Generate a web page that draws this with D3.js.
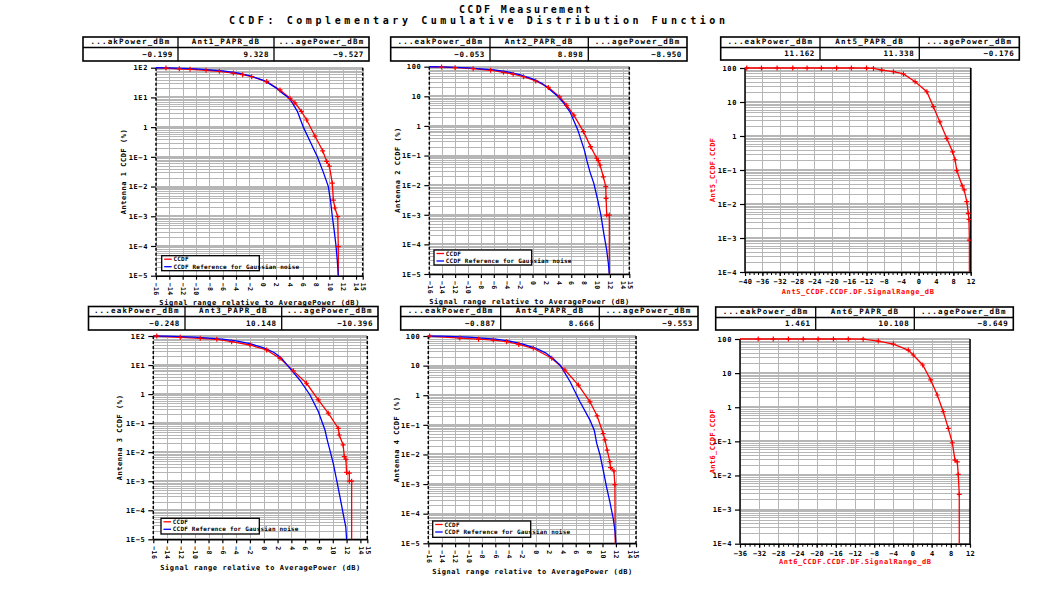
<!DOCTYPE html>
<html><head><meta charset="utf-8">
<script src="https://cdn.jsdelivr.net/npm/d3@7"></script>
<style>
body{margin:0;background:#fff;}
svg{display:block;}
text{font-family:"DejaVu Sans Mono",monospace;font-weight:bold;}
</style></head><body>
<svg id="c" width="1054" height="607"></svg>
<script>
// ---------- DATA ----------
const titleLines = ["CCDF Measurement","CCDF: Complementary Cumulative Distribution Function"];
const relXTicks = [-16,-14,-12,-10,-8,-6,-4,-2,0,2,4,6,8,10,12,14,15];
const relYTicks = [1e2,1e1,1,1e-1,1e-2,1e-3,1e-4,1e-5];
const relYLabelsA = ["1E2","1E1","1","1E-1","1E-2","1E-3","1E-4","1E-5"];
const relYLabelsB = ["100","10","1","1E-1","1E-2","1E-3","1E-4","1E-5"];
const ant5XTicks = [-40,-36,-32,-28,-24,-20,-16,-12,-8,-4,0,4,8,12];
const ant6XTicks = [-36,-32,-28,-24,-20,-16,-12,-8,-4,0,4,8,12];
const absYTicks = [100,10,1,1e-1,1e-2,1e-3,1e-4];
const absYLabels = ["100","10","1","1E-1","1E-2","1E-3","1E-4"];
const legendLabels = ["CCDF","CCDF Reference for Gaussian noise"];
const relXTitle = "Signal range relative to AveragePower (dB)";

const ant1Heads = ["...akPower_dBm","Ant1_PAPR_dB","...agePower_dBm"];
const ant2Heads = ["...eakPower_dBm","Ant2_PAPR_dB","...agePower_dBm"];
const ant5Heads = ["...eakPower_dBm","Ant5_PAPR_dB","...agePower_dBm"];
const ant3Heads = ["...eakPower_dBm","Ant3_PAPR_dB","...agePower_dBm"];
const ant4Heads = ["...eakPower_dBm","Ant4_PAPR_dB","...agePower_dBm"];
const ant6Heads = ["...eakPower_dBm","Ant6_PAPR_dB","...agePower_dBm"];
const ant1Vals = ["-0.199","9.328","-9.527"];
const ant2Vals = ["-0.053","8.898","-8.950"];
const ant5Vals = ["11.162","11.338","-0.176"];
const ant3Vals = ["-0.248","10.148","-10.396"];
const ant4Vals = ["-0.887","8.666","-9.553"];
const ant6Vals = ["1.461","10.108","-8.649"];

// CCDF curves: [signal range dB, CCDF %]
const ant1Meas = [[-16,99.8],[-14.5,97],[-12.5,92],[-10.9,88],[-8.5,82],[-6.5,76],[-4.4,66],[-3,58],[-1.65,50],[0.6,34],[2.6,17.8],[4.1,9.3],[4.84,6.6],[5.8,3.4],[6.6,1.74],[7.84,0.5],[9.0,0.16],[9.6,0.07],[10.0,0.049],[10.44,0.013],[10.6,0.0035],[10.84,0.0019],[11.25,0.00097],[11.34,0.000095],[11.34,0.00001]];
const ant1Ref = [[-16,99.6],[-14,98.5],[-12,95.5],[-10,91],[-8,85],[-6,78],[-4,68.5],[-2,54.5],[0,38],[1,29],[2,21],[3,13.5],[3.84,10],[4.5,6.3],[5.2,3.4],[6.1,1.0],[7.2,0.3],[8.2,0.1],[9.1,0.03],[9.85,0.01],[10.2,0.003],[10.44,0.001],[10.75,0.0003],[11.0,0.0001],[11.2,0.00003],[11.34,0.00001]];
const ant2Meas = [[-16,99.8],[-14.1,97],[-12,93],[-9.2,86],[-6.5,76],[-4.5,65],[-3,56],[-1.4,46],[0.5,33],[2.45,20],[4.2,9.5],[5.3,5.0],[6.4,2.3],[7.9,0.64],[9.0,0.2],[9.95,0.081],[10.2,0.067],[10.46,0.048],[10.98,0.019],[11.35,0.0089],[11.4,0.0036],[11.5,0.00098],[11.9,0.00098],[11.9,0.00001]];
const ant2Ref = [[-16,99.6],[-14,98.5],[-12,95.5],[-10,91],[-8,85],[-6,78],[-4,68.5],[-2,54.5],[0,39],[1.5,27],[2.8,16],[3.9,10],[4.8,6],[5.8,3.0],[7.0,0.75],[8.05,0.15],[8.4,0.07],[8.9,0.028],[9.5,0.0115],[10.1,0.0032],[10.6,0.00098],[11.05,0.00023],[11.5,0.000064],[11.75,0.000023],[11.9,0.00001]];
const ant5Meas = [[-40,100],[-39.6,100],[-36.2,100],[-32.6,100],[-29.0,100],[-25.7,100],[-22.4,100],[-18.9,100],[-15.5,100],[-12.0,99.5],[-10.4,97],[-8.5,87],[-5.8,78],[-3.5,66.7],[-0.8,39.5],[1.9,20],[3.4,7.3],[4.9,2.6],[6.5,0.85],[7.85,0.34],[8.4,0.2],[8.8,0.096],[10.07,0.034],[10.5,0.026],[11.1,0.0117],[11.45,0.0053],[11.6,0.0035],[11.7,0.00087],[11.7,0.0001]];
const ant3Meas = [[-16,100],[-15.5,99.5],[-12.1,90],[-9.2,83],[-6.8,77],[-4.65,64],[-2.0,49],[0.42,33],[2.35,17],[4.28,6.3],[6.2,2.36],[7.9,0.63],[9.35,0.22],[10.8,0.066],[10.94,0.039],[11.5,0.0178],[11.67,0.0071],[11.9,0.0057],[12.0,0.002],[12.4,0.0019],[12.4,0.001],[12.73,0.001],[12.73,0.00001]];
const ant3Ref = [[-16,99.7],[-14,98.5],[-12,95.5],[-10,91],[-8,85],[-6,78],[-4,68.5],[-2,54.5],[0,39],[1.5,27],[2.5,18],[3.8,7.7],[5.24,3.0],[6.7,0.93],[7.9,0.25],[8.87,0.058],[9.2,0.026],[9.7,0.0091],[10.07,0.0041],[10.56,0.0011],[11.04,0.00029],[11.5,0.000077],[11.88,0.000027],[12.0,0.00001]];
const ant4Meas = [[-16,100],[-15.8,99.5],[-11.3,85],[-8.5,78],[-6.3,73],[-4.3,64.5],[-2.5,52],[-0.33,38.5],[2.42,17.7],[4.4,7.1],[6.4,2.2],[8.13,0.6],[9.2,0.2],[10.1,0.051],[10.37,0.031],[10.7,0.014],[11.1,0.0057],[11.2,0.0036],[11.7,0.0028],[11.85,0.00096],[11.9,0.00001]];
const ant4Ref = [[-16,99.7],[-14,98.5],[-12,95.5],[-10,91],[-8,85],[-6,78],[-4,68.5],[-2,54.5],[0,39],[1.5,27],[2.5,18],[3.66,10.5],[5.15,2.9],[6.64,0.6],[8.13,0.145],[8.78,0.065],[9.13,0.024],[9.63,0.0096],[10.1,0.003],[10.6,0.0008],[11.1,0.00025],[11.6,0.000068],[11.86,0.000027],[12.0,0.00001]];
const ant6Meas = [[-36,100],[-32.2,100],[-29.05,100],[-25.9,100],[-22.8,100],[-19.7,100],[-16.5,100],[-13.4,100],[-10.3,99],[-7.14,87],[-4.0,71],[-0.88,47.5],[0.16,34],[2.13,17.3],[3.8,6.3],[5.17,2.28],[6.43,0.74],[7.47,0.24],[8.3,0.091],[8.87,0.028],[9.35,0.025],[9.55,0.0107],[9.76,0.0028],[9.76,0.0001]];

// ---------- LAYOUT ----------
const RED="#ff0000", BLUE="#0000ff", GRID="#b6b6b6";
const panels = [
 {plot:[156,67.7,362.7,275.7], table:[83,178,274,369,37,47.5,61], legend:[161.7,255.7,259.3,270.7], ylabX:124, xlabY:303,
  rel:true, xDomain:[-16,15], xTicks:relXTicks, yDomain:[1e2,1e-5], yTicks:relYTicks, yLabels:relYLabelsA,
  heads:ant1Heads, vals:ant1Vals, meas:ant1Meas, ref:ant1Ref, ylab:"Antenna 1 CCDF (%)"},
 {plot:[429.3,66.7,629.3,274], table:[390.7,490,588.3,687,37,47.5,61], legend:[434,250,531.7,265], ylabX:398, xlabY:302,
  rel:true, xDomain:[-16,15], xTicks:relXTicks, yDomain:[1e2,1e-5], yTicks:relYTicks, yLabels:relYLabelsB,
  heads:ant2Heads, vals:ant2Vals, meas:ant2Meas, ref:ant2Ref, ylab:"Antenna 2 CCDF (%)"},
 {plot:[745,68,970.7,272], table:[720.7,820,919.3,1019.3,37,47.5,60], ylabX:713, xlabY:292,
  rel:false, xDomain:[-40,12], xTicks:ant5XTicks, yDomain:[100,1e-4], yTicks:absYTicks, yLabels:absYLabels,
  heads:ant5Heads, vals:ant5Vals, meas:ant5Meas, ylab:"Ant5_CCDF.CCDF", xlab:"Ant5_CCDF.CCDF.DF.SignalRange_dB"},
 {plot:[153.3,336,367.3,539.3], table:[88.5,185,281.7,378,306.5,316.5,330], legend:[161,518.3,259.3,534], ylabX:119.3, xlabY:567.5,
  rel:true, xDomain:[-16,15], xTicks:relXTicks, yDomain:[1e2,1e-5], yTicks:relYTicks, yLabels:relYLabelsA,
  heads:ant3Heads, vals:ant3Vals, meas:ant3Meas, ref:ant3Ref, ylab:"Antenna 3 CCDF (%)"},
 {plot:[428.3,336,636,543.3], table:[400.7,500.7,599.3,698,306.5,316.5,330], legend:[432.7,521,530.7,537.3], ylabX:396.7, xlabY:571.5,
  rel:true, xDomain:[-16,15], xTicks:relXTicks, yDomain:[1e2,1e-5], yTicks:relYTicks, yLabels:relYLabelsB,
  heads:ant4Heads, vals:ant4Vals, meas:ant4Meas, ref:ant4Ref, ylab:"Antenna 4 CCDF (%)"},
 {plot:[740,339,970,543.7], table:[715.7,815.7,914.3,1013.3,307,317.5,330], ylabX:712.7, xlabY:562,
  rel:false, xDomain:[-36,12], xTicks:ant6XTicks, yDomain:[100,1e-4], yTicks:absYTicks, yLabels:absYLabels,
  heads:ant6Heads, vals:ant6Vals, meas:ant6Meas, ylab:"Ant6_CCDF.CCDF", xlab:"Ant6_CCDF.CCDF.DF.SignalRange_dB"}
];

const svg = d3.select("#c");

// title
svg.append("text").attr("x",459).attr("y",12.5).attr("font-size",10).attr("textLength",131).attr("lengthAdjust","spacing").text(titleLines[0]);
svg.append("text").attr("x",229).attr("y",24).attr("font-size",10).attr("textLength",496).attr("lengthAdjust","spacing").text(titleLines[1]);

panels.forEach((p,pi)=>{
  const [L,T,R,B] = p.plot;
  const x = d3.scaleLinear().domain(p.xDomain).range([L,R]);
  const y = d3.scaleLog().domain(p.yDomain).range([T,B]);
  const g = svg.append("g");
  const cid = "clip"+pi;
  svg.append("clipPath").attr("id",cid).append("rect").attr("x",L-3).attr("y",T-3).attr("width",R-L+4).attr("height",B-T+4);

  // log grid
  const lo = Math.round(Math.log10(p.yDomain[1])), hi = Math.round(Math.log10(p.yDomain[0]));
  const minor = [];
  for (let e=lo; e<hi; e++) for (let k=2;k<=9;k++) minor.push(k*Math.pow(10,e));
  const sn = v => Math.round(v)+0.5;
  g.append("g").selectAll("line").data(minor).join("line")
    .attr("x1",L).attr("x2",R).attr("y1",d=>sn(y(d))).attr("y2",d=>sn(y(d)))
    .attr("stroke",GRID).attr("stroke-width",1).attr("shape-rendering","crispEdges");
  g.append("g").selectAll("line").data(p.yTicks).join("line")
    .attr("x1",L).attr("x2",R).attr("y1",d=>Math.round(y(d))).attr("y2",d=>Math.round(y(d)))
    .attr("stroke",GRID).attr("stroke-width",2).attr("shape-rendering","crispEdges");
  g.append("g").selectAll("line").data(p.xTicks).join("line")
    .attr("x1",d=>sn(x(d))).attr("x2",d=>sn(x(d))).attr("y1",T).attr("y2",B)
    .attr("stroke",GRID).attr("stroke-width",1).attr("shape-rendering","crispEdges");

  // x axis
  const ax = g.append("g").attr("transform",`translate(0,${B})`)
    .call(d3.axisBottom(x).tickValues(p.xTicks).tickSize(4).tickSizeOuter(0).tickFormat(d=>String(d).replace("-","\u2212")));
  ax.attr("font-family",null).attr("font-size",p.rel?6.5:7);
  ax.select(".domain").attr("stroke","#000").attr("stroke-width",1.5);
  ax.selectAll(".tick line").attr("stroke","#000").attr("stroke-width",1.2);
  if (p.rel) {
    ax.selectAll(".tick text").attr("x",0).attr("y",0).attr("dy","0.35em")
      .attr("transform","translate(0,7) rotate(90)").attr("text-anchor","start").attr("letter-spacing",0.4);
  } else {
    ax.selectAll(".tick text").attr("y",7).attr("dy","0.71em").attr("letter-spacing",0.3);
    const minorX = d3.range(p.xDomain[0], p.xDomain[1]+0.5, 1);
    g.append("g").attr("transform",`translate(0,${B})`)
      .call(d3.axisBottom(x).tickValues(minorX).tickSize(3).tickSizeOuter(0).tickFormat(""))
      .call(a=>a.select(".domain").remove())
      .selectAll(".tick line").attr("stroke","#000").attr("stroke-width",1);
  }

  // y axis
  const ay = g.append("g").attr("transform",`translate(${L},0)`)
    .call(d3.axisLeft(y).tickValues(p.yTicks).tickFormat((d,i)=>p.yLabels[i].replace("-","\u2212")).tickSize(5).tickSizeOuter(0));
  ay.attr("font-family",null).attr("font-size",7);
  ay.select(".domain").remove();
  ay.selectAll(".tick line").attr("stroke","#000").attr("stroke-width",1.2);
  ay.selectAll(".tick text").attr("x",-8).attr("letter-spacing",0.6);

  // borders
  const dash = p.rel ? "3,2" : null;
  g.append("line").attr("x1",L).attr("x2",L).attr("y1",T).attr("y2",B).attr("stroke","#000").attr("stroke-width",1.5).attr("stroke-dasharray",dash);
  g.append("line").attr("x1",R).attr("x2",R).attr("y1",T).attr("y2",B).attr("stroke","#000").attr("stroke-width",1.5).attr("stroke-dasharray",dash);

  // curves
  const line = d3.line().x(d=>x(d[0])).y(d=>y(d[1]));
  const cg = g.append("g").attr("clip-path",`url(#${cid})`);
  cg.append("path").datum(p.meas).attr("d",line).attr("fill","none").attr("stroke",RED).attr("stroke-width",1.3);
  if (p.ref) cg.append("path").datum(p.ref).attr("d",line).attr("fill","none").attr("stroke",BLUE).attr("stroke-width",1.3);
  cg.selectAll(".mk").data(p.meas.slice(1,-1)).join("path").attr("class","mk")
    .attr("d","M-2.5,0H2.5M0,-2.5V2.5").attr("transform",d=>`translate(${x(d[0])},${y(d[1])})`)
    .attr("stroke",RED).attr("stroke-width",1.2).attr("fill","none");

  // legend
  if (p.legend) {
    const [lx0,ly0,lx1,ly1] = p.legend;
    g.append("rect").attr("x",lx0).attr("y",ly0).attr("width",lx1-lx0).attr("height",ly1-ly0)
      .attr("fill","#fff").attr("stroke","#000").attr("stroke-width",1.3);
    [RED,BLUE].forEach((c,i)=>{
      const yy = ly0 + 3.5 + i*7.5;
      g.append("line").attr("x1",lx0+2.5).attr("x2",lx0+10).attr("y1",yy).attr("y2",yy).attr("stroke",c).attr("stroke-width",1.3);
      g.append("text").attr("x",lx0+11.8).attr("y",yy).attr("dy","0.35em").attr("font-size",6).attr("letter-spacing",0.2).text(legendLabels[i]);
    });
  }

  // axis titles
  const cx = (L+R)/2, cy = (T+B)/2;
  if (p.rel) {
    g.append("text").attr("x",cx).attr("y",p.xlabY).attr("dy","0.35em").attr("text-anchor","middle")
      .attr("font-size",7).attr("textLength",200).attr("lengthAdjust","spacing").text(relXTitle);
    g.append("text").attr("transform",`translate(${p.ylabX},${cy}) rotate(-90)`).attr("dy","0.35em").attr("text-anchor","middle")
      .attr("font-size",7).attr("textLength",85).attr("lengthAdjust","spacing").text(p.ylab);
  } else {
    g.append("text").attr("x",cx).attr("y",p.xlabY).attr("dy","0.35em").attr("text-anchor","middle").attr("fill",RED)
      .attr("font-size",7).attr("textLength",152).attr("lengthAdjust","spacing").text(p.xlab);
    g.append("text").attr("transform",`translate(${p.ylabX},${cy}) rotate(-90)`).attr("dy","0.35em").attr("text-anchor","middle").attr("fill",RED)
      .attr("font-size",7).attr("textLength",64).attr("lengthAdjust","spacing").text(p.ylab);
  }

  // table
  const [x0,c1,c2,x1,y0,ym,y1] = p.table;
  const tg = g.append("g");
  tg.append("rect").attr("x",x0).attr("y",y0).attr("width",x1-x0).attr("height",y1-y0).attr("fill","#fff").attr("stroke","#000").attr("stroke-width",1.6);
  tg.append("line").attr("x1",x0).attr("x2",x1).attr("y1",ym).attr("y2",ym).attr("stroke","#000").attr("stroke-width",1.3);
  [c1,c2].forEach(c=>tg.append("line").attr("x1",c).attr("x2",c).attr("y1",y0).attr("y2",y1).attr("stroke","#000").attr("stroke-width",1.3));
  const cols = [[x0,c1],[c1,c2],[c2,x1]];
  cols.forEach(([a,b],i)=>{
    tg.append("text").attr("x",(a+b)/2).attr("y",ym-3.2).attr("text-anchor","middle")
      .attr("font-size",7.5).attr("letter-spacing",1.2).text(p.heads[i]);
    tg.append("text").attr("x",b-5).attr("y",(ym+y1)/2).attr("dy","0.35em").attr("text-anchor","end")
      .attr("font-size",7.5).attr("letter-spacing",0.6).text(p.vals[i].replace("-","\u2212"));
  });
});
</script>
</body></html>
